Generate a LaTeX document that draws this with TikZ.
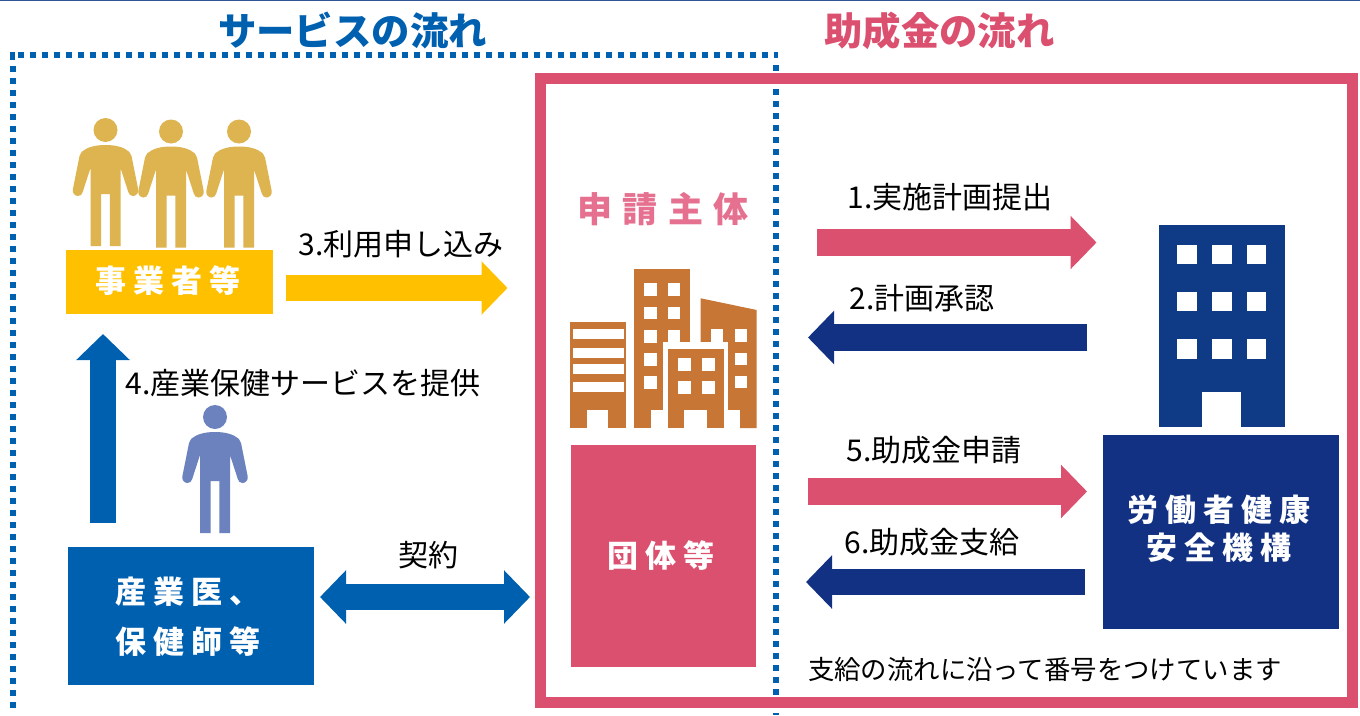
\documentclass[tikz,border=0pt]{standalone}
\usepackage{fontspec}
\usetikzlibrary{arrows.meta}
\setmainfont{Noto Sans CJK JP}
\definecolor{svcblue}{HTML}{0060B0}
\definecolor{grantpink}{HTML}{DB4F6F}
\definecolor{lightpink}{HTML}{E5708F}
\definecolor{navy}{HTML}{123183}
\definecolor{bldnavy}{HTML}{0F3A85}
\definecolor{amber}{HTML}{FFC000}
\definecolor{gold}{HTML}{DDB44F}
\definecolor{slate}{HTML}{6B82BE}
\definecolor{brick}{HTML}{C77636}
\definecolor{rulecol}{HTML}{2F5597}
\newcommand{\fsz}[1]{\fontsize{#1}{#1}\selectfont}
\newcommand{\personfig}[3]{%
  \begin{scope}[shift={(#1,#2)}]
    \fill[#3] (0,0) circle[radius=12];
    \fill[#3] (0,15) .. controls (10,15) and (18,17) .. (23.7,21.7)
      .. controls (25,23) and (25.5,24) .. (26,26) -- (32.6,59)
      .. controls (33.5,63) and (30.5,66) .. (27.5,66)
      .. controls (25,66) and (23.5,64.5) .. (22.8,62) -- (15,38) -- (15,116)
      -- (4.3,116) -- (4.3,64) -- (-4.3,64) -- (-4.3,116) -- (-15,116) -- (-15,38)
      -- (-22.8,62) .. controls (-23.5,64.5) and (-25,66) .. (-27.5,66)
      .. controls (-30.5,66) and (-33.5,63) .. (-32.6,59) -- (-26,26)
      .. controls (-25.5,24) and (-25,23) .. (-23.7,21.7)
      .. controls (-18,17) and (-10,15) .. (0,15) -- cycle;
  \end{scope}}
\newcommand{\whitewin}[4]{\fill[white] (#1,#3) rectangle (#2,#4);}
\tikzset{
  x=1pt,y=-1pt,
  boxtext/.style={text=white,font=\bfseries\fsz{31}\addfontfeature{LetterSpace=22},align=center,inner sep=0pt},
  lab/.style={text=black,font=\fsz{30},inner sep=0pt,text height=25.5pt,text depth=3pt},
  notelab/.style={text=black,font=\fsz{26.4},inner sep=0pt,text height=22.4pt,text depth=2.6pt},
  headline/.style={font=\bfseries\fsz{38.4},inner sep=0pt,text height=32.6pt,text depth=3.8pt},
  dotted line/.style={draw=svcblue,line width=6pt,dash pattern=on 6pt off 6pt},
  blockarrow/.style={draw=#1,line width=26.5pt,-{Triangle[length=26pt,width=52pt,fill=#1]}},
  dblockarrow/.style={draw=#1,line width=26.5pt,{Triangle[length=26pt,width=52pt,fill=#1]}-{Triangle[length=26pt,width=52pt,fill=#1]}},
}
\begin{document}
\begin{tikzpicture}
\useasboundingbox (0,0) rectangle (1360,715);
\fill[white] (0,0) rectangle (1360,715);
\fill[rulecol] (0,0) rectangle (1360,1);

% dotted service frame
\coordinate (dTL) at (12.5,66); \coordinate (dBL) at (12.5,710);
\coordinate (dT1) at (17.7,55); \coordinate (dT2) at (778,55);
\coordinate (dR1) at (776,65);  \coordinate (dR2) at (776,715);
\draw[dotted line] (dTL) -- (dBL);
\draw[dotted line] (dT1) -- (dT2);
\draw[dotted line] (dR1) -- (dR2);
\fill[svcblue] (10,52) rectangle (15,60);

% pink frame
\draw[grantpink,line width=11pt] (540.5,78.5) rectangle (1352.5,702.5);

% headings
\node[headline,text=svcblue] (hsvc) at (352.5,31) {サービスの流れ};
\node[headline,text=grantpink] (hgrant) at (939.5,31) {助成金の流れ};

% people
\personfig{105.5}{130}{gold}
\personfig{171}{131.5}{gold}
\personfig{239}{131.5}{gold}
\personfig{215}{417}{slate}

% boxes
\fill[amber] (66,250) rectangle (273,314);
\node[boxtext] (jig) at (168,281) {事業者等};
\fill[svcblue] (68,547) rectangle (314,685);
\node[boxtext,align=left] (doc) at (188,617) {産業医、\\[19pt]保健師等};
\fill[grantpink] (571,445) rectangle (756,667);
\node[boxtext] (dan) at (661,556) {団体等};
\fill[navy] (1103,435) rectangle (1339,629);
\node[boxtext] (rou) at (1219,528.5) {労働者健康\\[7pt]安全機構};

\node[inner sep=0pt,text=lightpink,font=\bfseries\fsz{35}\addfontfeature{LetterSpace=30}] (shin) at (663,209) {申請主体};

% arrows
\coordinate (a3s) at (286,288); \coordinate (a3e) at (507.5,288);
\draw[blockarrow=amber] (a3s) -- (a3e);
\coordinate (a4s) at (103,523); \coordinate (a4e) at (103,334);
\draw[blockarrow=svcblue] (a4s) -- (a4e);
\coordinate (kL) at (320,597); \coordinate (kR) at (530,597);
\draw[dblockarrow=svcblue] (kL) -- (kR);
\coordinate (a1s) at (817,242.5); \coordinate (a1e) at (1096.5,242.5);
\draw[blockarrow=grantpink] (a1s) -- (a1e);
\coordinate (a2s) at (1087,337.5); \coordinate (a2e) at (808,337.5);
\draw[blockarrow=navy] (a2s) -- (a2e);
\coordinate (a5s) at (808,491.5); \coordinate (a5e) at (1087,491.5);
\draw[blockarrow=grantpink] (a5s) -- (a5e);
\coordinate (a6s) at (1085,582); \coordinate (a6e) at (806,582);
\draw[blockarrow=navy] (a6s) -- (a6e);

% labels
\node[lab] (l3) at (401,244) {3.利用申し込み};
\node[lab] (l4) at (303,383) {4.産業保健サービスを提供};
\node[lab] (lk) at (428,555) {契約};
\node[lab] (l1) at (950,197) {1.実施計画提出};
\node[lab] (l2) at (922,298) {2.計画承認};
\node[lab] (l5) at (934,450) {5.助成金申請};
\node[lab] (l6) at (932,542) {6.助成金支給};
\node[notelab] (lnote) at (1045,670) {支給の流れに沿って番号をつけています};

% navy building
\fill[bldnavy] (1158.5,225) rectangle (1285,427);
\foreach \yy/\yb in {245/264,292.3/311.3,339.3/358.7}{
  \foreach \xx/\xb in {1177.3/1196.8,1212/1231.5,1246.7/1266}{
    \whitewin{\xx}{\xb}{\yy}{\yb}}}
\whitewin{1202}{1241}{392}{427.5}

% orange buildings
\fill[brick] (570,321.7) rectangle (626,428);
\foreach \yy/\yb in {329.3/339.3,347.7/357.7,364.3/374.3,382/392}{\whitewin{572.7}{623.7}{\yy}{\yb}}
\whitewin{586.7}{608.3}{410}{428.5}
\fill[brick] (633.7,269) rectangle (690,428);
\foreach \yy/\yb in {283.3/296,306.7/319.3,330/342.7,353.3/366,376/388.7}{\whitewin{644}{656.7}{\yy}{\yb}}
\foreach \yy/\yb in {283.3/296,306.7/319.3,330/345}{\whitewin{667.7}{680.3}{\yy}{\yb}}
\whitewin{651}{664}{410}{428.5}
\fill[brick] (700.7,298.3) -- (756.7,310) -- (756.7,428) -- (700.7,428) -- cycle;
\foreach \yy/\yb in {329.3/342,352.7/365.3,375.7/388.3}{\whitewin{735}{747.3}{\yy}{\yb}}
\whitewin{710.7}{722.7}{329.3}{345}
\whitewin{728.3}{740}{410}{428.5}
\whitewin{663.3}{728.3}{341.7}{428.5}
\fill[brick] (667.7,349.3) rectangle (724,428);
\foreach \yy/\yb in {358.3/371,381/393.7}{
  \whitewin{678}{690.7}{\yy}{\yb}
  \whitewin{702.3}{714.7}{\yy}{\yb}}
\whitewin{684.3}{706.7}{410}{428.5}
\end{tikzpicture}
\end{document}
